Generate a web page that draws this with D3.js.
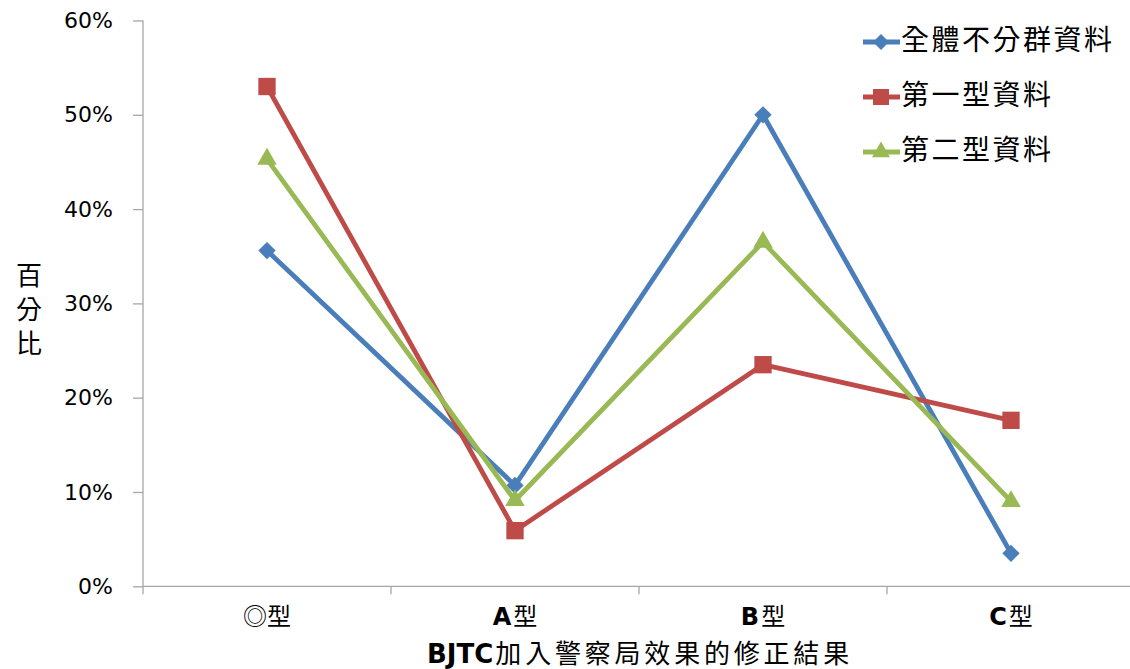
<!DOCTYPE html>
<html>
<head>
<meta charset="utf-8">
<script src="https://cdn.jsdelivr.net/npm/d3@7"></script>
<style>
  body { margin: 0; background: #fff; }
  svg { display: block; }
  text { fill: #000; }
</style>
</head>
<body>
<svg id="chart" width="1130" height="669"></svg>
<script>
// Categories and series (percent)
const categories = ["◎型", "A型", "B型", "C型"];
const seriesNames = ["全體不分群資料", "第一型資料", "第二型資料"];
const seriesAll = [35.6, 10.7, 50.0, 3.5];
const seriesType1 = [53.0, 5.9, 23.5, 17.6];
const seriesType2 = [45.3, 9.1, 36.5, 9.0];
const yTicks = [0, 10, 20, 30, 40, 50, 60];
const xTitle = "BJTC加入警察局效果的修正結果";
const yTitle = ["百", "分", "比"];

(function () {
  const colors = ["#4A7EBB", "#BE4B48", "#98B954"];
  const seriesData = [seriesAll, seriesType1, seriesType2];
  // diamond = rotated square
  const markers = [
    { type: d3.symbolSquare, size: 150, rotate: 45 },
    { type: d3.symbolSquare, size: 300, rotate: 0 },
    { type: d3.symbolTriangle, size: 165, rotate: 0 }
  ];

  const svg = d3.select("#chart");
  const plotLeft = 143, plotRight = 1135, plotTop = 20.5, plotBottom = 586.3;
  const cjk = "'Noto Sans CJK TC', 'Noto Sans CJK SC', sans-serif";
  const latin = "'DejaVu Sans', Verdana, sans-serif";
  const isLatin = ch => /[A-Za-z0-9]/.test(ch);

  // split a string into runs of Latin / CJK characters
  function runs(str) {
    const out = [];
    for (const ch of str) {
      const l = isLatin(ch);
      if (out.length && out[out.length - 1].latin === l) out[out.length - 1].text += ch;
      else out.push({ latin: l, text: ch });
    }
    return out;
  }

  // draw mixed Latin (bold) / CJK text as side-by-side pieces centred on cx
  function mixedLabel(parent, str, cx, baseline, latinSize, cjkSize, cjkSpacing) {
    const g = parent.append("g");
    const pieces = runs(str).map(r => {
      const t = g.append("text").attr("y", baseline)
        .attr("font-family", r.latin ? latin : cjk)
        .attr("font-weight", r.latin ? "bold" : "normal")
        .attr("font-size", r.latin ? latinSize : cjkSize)
        .attr("letter-spacing", r.latin ? 0 : cjkSpacing)
        .text(r.text);
      return { t, w: t.node().getComputedTextLength() };
    });
    const gap = 2;
    const total = d3.sum(pieces, p => p.w) + gap * (pieces.length - 1);
    let cur = cx - total / 2;
    pieces.forEach(p => { p.t.attr("x", cur); cur += p.w + gap; });
  }

  const x = d3.scaleBand().domain(categories).range([plotLeft, plotRight]);
  const y = d3.scaleLinear().domain([0, 60]).range([plotBottom, plotTop]);

  // y axis
  const yAxis = svg.append("g").attr("transform", `translate(${plotLeft},0)`)
    .call(d3.axisLeft(y).tickValues(yTicks).tickSize(10).tickPadding(20).tickFormat(d => d + "%"));
  yAxis.selectAll("line, path").attr("stroke", "#A6A6A6").attr("stroke-width", 1.3);
  yAxis.select("path").attr("d", `M0,${plotTop}V${plotBottom}`);
  yAxis.selectAll("text").attr("font-family", latin)
    .attr("font-size", 22).attr("fill", "#000");

  // x axis: ticks at band boundaries
  const xAxisG = svg.append("g").attr("transform", `translate(0,${plotBottom})`);
  xAxisG.append("line").attr("x1", plotLeft).attr("x2", plotRight).attr("stroke", "#A6A6A6").attr("stroke-width", 1.3);
  const bounds = categories.map(c => x(c)).concat([x(categories[categories.length - 1]) + x.bandwidth()]);
  xAxisG.selectAll(".tk").data(bounds).enter().append("line")
    .attr("x1", d => d).attr("x2", d => d).attr("y1", 0).attr("y2", 8)
    .attr("stroke", "#A6A6A6").attr("stroke-width", 1.3);
  categories.forEach(c => mixedLabel(xAxisG, c, x(c) + x.bandwidth() / 2, 39, 24, 24, 0));

  // axis titles
  mixedLabel(svg, xTitle, (plotLeft + plotRight) / 2 + 1, 663, 26, 26, 3.8);
  svg.selectAll(".yt").data(yTitle).enter().append("text")
    .attr("x", 29).attr("y", (d, i) => 285 + i * 34)
    .attr("text-anchor", "middle").attr("font-size", 26)
    .attr("font-family", cjk).text(d => d);

  // series lines and markers
  const line = d3.line().x((d, i) => x(categories[i]) + x.bandwidth() / 2).y(d => y(d));
  seriesData.forEach((vals, s) => {
    const g = svg.append("g");
    g.append("path").datum(vals).attr("d", line)
      .attr("fill", "none").attr("stroke", colors[s]).attr("stroke-width", 4.8)
      .attr("stroke-linejoin", "round");
    g.selectAll("path.m").data(vals).enter().append("path").attr("class", "m")
      .attr("d", d3.symbol().type(markers[s].type).size(markers[s].size))
      .attr("transform", (d, i) => `translate(${x(categories[i]) + x.bandwidth() / 2},${y(d)}) rotate(${markers[s].rotate})`)
      .attr("fill", colors[s]);
  });

  // legend
  const legendY = [42, 97, 152];
  seriesNames.forEach((name, s) => {
    const g = svg.append("g").attr("transform", `translate(0,${legendY[s]})`);
    g.append("line").attr("x1", 863).attr("x2", 900).attr("stroke", colors[s]).attr("stroke-width", 4.8);
    g.append("path").attr("d", d3.symbol().type(markers[s].type).size(markers[s].size * 0.85))
      .attr("transform", `translate(881,0) rotate(${markers[s].rotate})`).attr("fill", colors[s]);
    g.append("text").attr("x", 901).attr("y", 8).attr("font-size", 28)
      .attr("letter-spacing", 2.5)
      .attr("font-family", cjk).text(name);
  });
})();
</script>
</body>
</html>
